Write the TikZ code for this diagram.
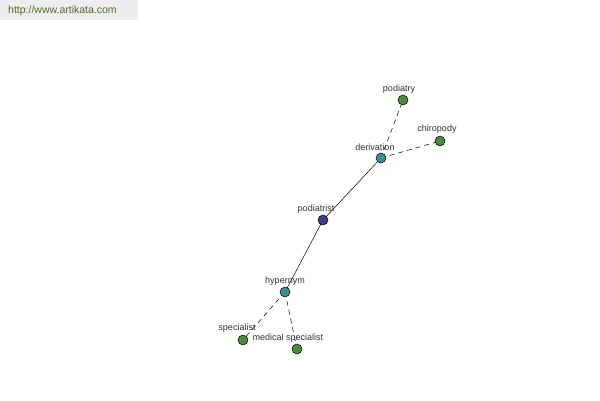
\documentclass[tikz,border=0pt]{standalone}
\usepackage{fontspec}
\setmainfont{Liberation Sans}
\definecolor{leaf}{HTML}{4A8C3C}
\definecolor{rel}{HTML}{3F8E8E}
\definecolor{root}{HTML}{3C3F8E}
\definecolor{wm}{HTML}{4F6B2A}
\definecolor{wmbg}{HTML}{EEEEEE}
\tikzset{
  dot/.style={circle,draw=black,line width=0.5pt,inner sep=0pt,minimum size=10pt},
  leafdot/.style={dot,fill=leaf},
  reldot/.style={dot,fill=rel},
  rootdot/.style={dot,fill=root},
  lbl/.style={font=\fontsize{9}{10}\selectfont,text=black!80,inner sep=0pt},
  solidedge/.style={draw=black,line width=0.5pt},
  dashedge/.style={draw=black,line width=0.5pt,dash pattern=on 5pt off 4pt}
}
\begin{document}
\begin{tikzpicture}[x=1pt,y=-1pt]
\useasboundingbox[fill=white] (0,0) rectangle (600,400);
\fill[wmbg] (0,0) rectangle (138,20);
\node[font=\fontsize{10.5}{12}\selectfont,text=wm,anchor=west,inner sep=0pt] (wmtext) at (8,11) {http://www.artikata.com};
% node positions
\coordinate (cpodiatrist) at (323,220);
\coordinate (cderivation) at (381,158);
\coordinate (chypernym) at (285,292);
\coordinate (cpodiatry) at (403,100);
\coordinate (cchiropody) at (440,141);
\coordinate (cspecialist) at (243,340);
\coordinate (cmedspec) at (297,349);
% edges
\path[solidedge] (cpodiatrist) -- (cderivation);
\path[solidedge] (cpodiatrist) -- (chypernym);
\path[dashedge] (cderivation) -- (cpodiatry);
\path[dashedge] (cderivation) -- (cchiropody);
\path[dashedge] (chypernym) -- (cspecialist);
\path[dashedge] (chypernym) -- (cmedspec);
% dots
\node[rootdot] (podiatrist) at (cpodiatrist) {};
\node[reldot] (derivation) at (cderivation) {};
\node[reldot] (hypernym) at (chypernym) {};
\node[leafdot] (podiatry) at (cpodiatry) {};
\node[leafdot] (chiropody) at (cchiropody) {};
\node[leafdot] (specialist) at (cspecialist) {};
\node[leafdot] (medspec) at (cmedspec) {};
% labels
\node[lbl] (lpodiatrist) at (316,209) {podiatrist};
\node[lbl] (lderivation) at (375,147) {derivation};
\node[lbl] (lhypernym) at (285,281) {hypernym};
\node[lbl] (lpodiatry) at (399,89) {podiatry};
\node[lbl] (lchiropody) at (437,129) {chiropody};
\node[lbl] (lspecialist) at (237,328) {specialist};
\node[lbl] (lmedspec) at (288,338) {medical specialist};
\end{tikzpicture}
\end{document}
